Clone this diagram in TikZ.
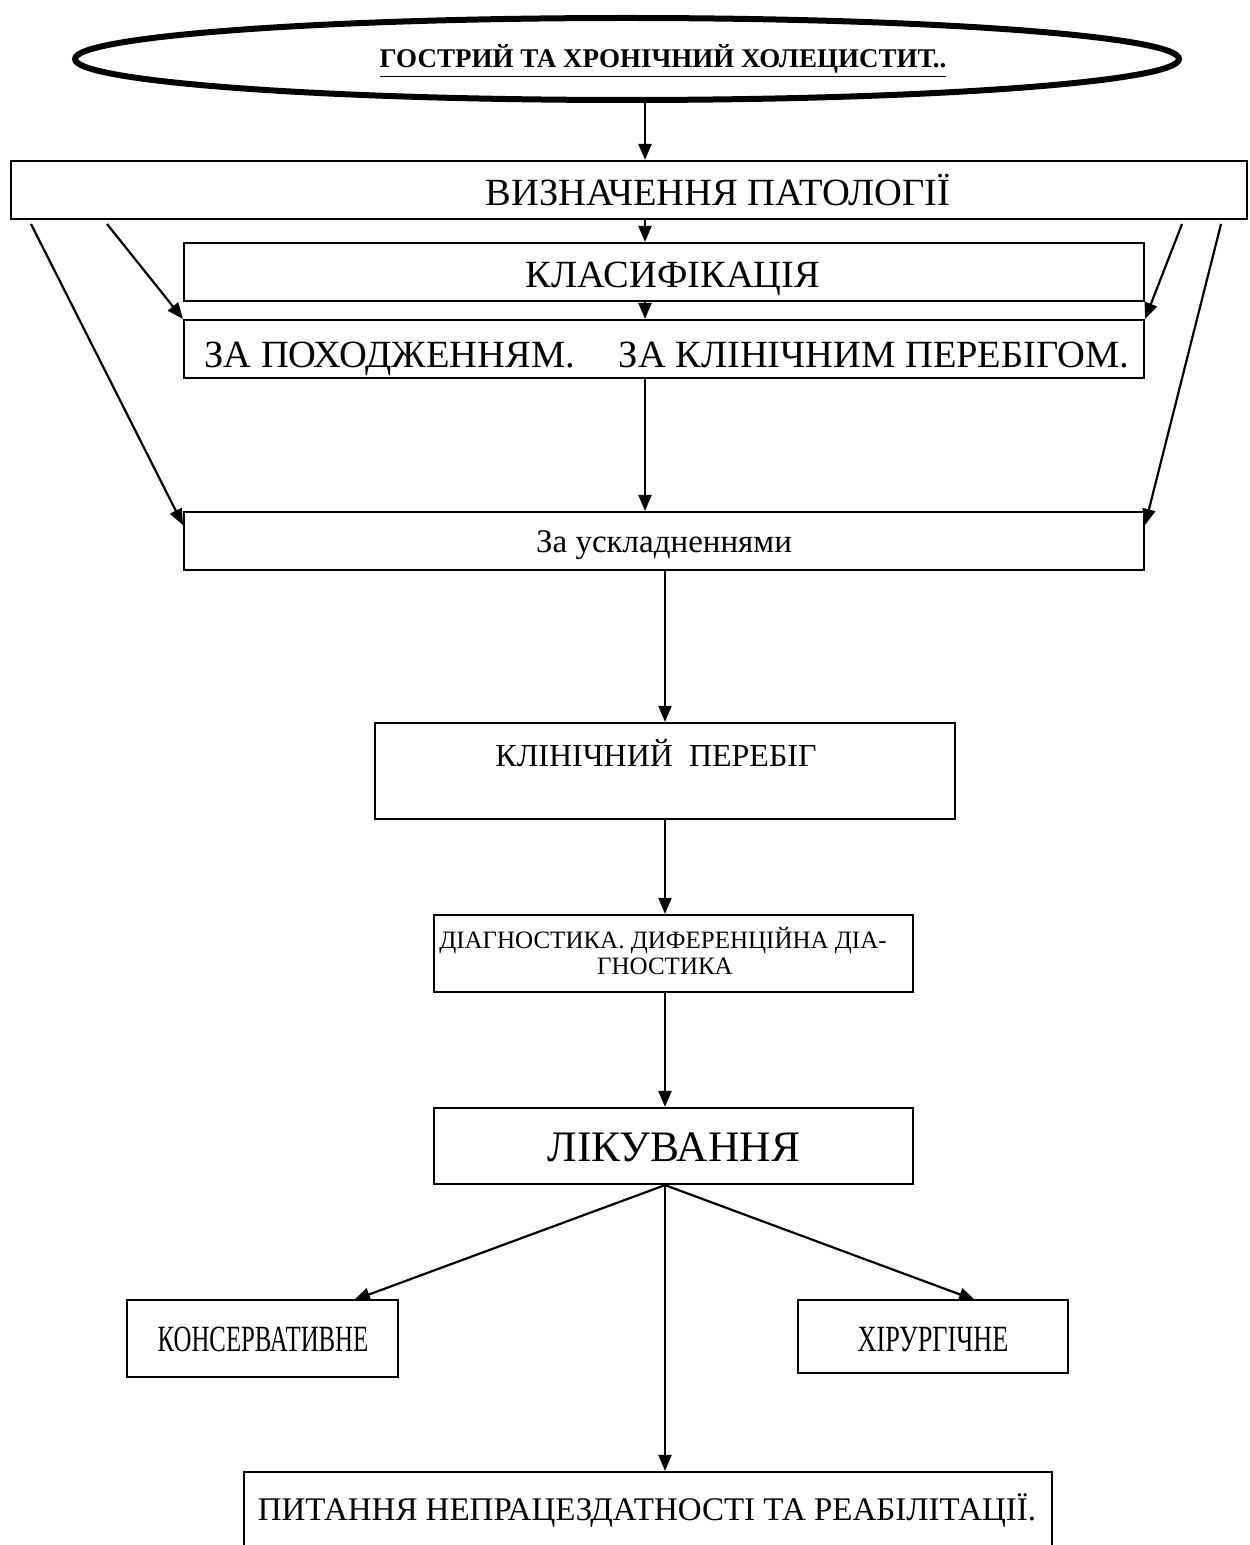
\documentclass[tikz,border=0pt]{standalone}
\usepackage{fontspec}
\setmainfont{Liberation Serif}
\usetikzlibrary{arrows.meta,shapes.geometric,fit}
\newcommand\fsz[1]{\fontsize{#1}{#1}\selectfont}
\begin{document}
\begin{tikzpicture}[x=0.5pt,y=-0.5pt,
  box/.style={draw, line width=1.1pt, inner sep=0pt, rectangle},
  arr/.style={-{Triangle[length=8pt,width=6.5pt]}, line width=1.1pt},
  lbl/.style={anchor=base, inner sep=0pt}]
\clip (0,0) rectangle (1249,1545);
\fill[white] (0,0) rectangle (1249,1545);

% title ellipse
\node[draw, ellipse, line width=3pt, minimum width=552pt, minimum height=41pt, inner sep=0pt] (ell) at (627,59) {};
\node[lbl, font=\fsz{13.5}\bfseries] (title) at (663,68) {\underline{ГОСТРИЙ ТА ХРОНІЧНИЙ ХОЛЕЦИСТИТ..}};

% columns
\coordinate (c1) at (645,0);
\coordinate (c2) at (665,0);

% boxes
\node[box, fit={(11,161) (1247,219)}] (b1) {};
\node[lbl, font=\fsz{19.25}] (t1) at (718,206) {ВИЗНАЧЕННЯ ПАТОЛОГІЇ};

\node[box, fit={(184,243) (1144,301)}] (b2) {};
\node[lbl, font=\fsz{19.25}] (t2) at (673,288) {КЛАСИФІКАЦІЯ};

\node[box, fit={(184,320) (1144,378)}] (b3) {};
\node[anchor=base west, inner sep=0pt, font=\fsz{19.25}] (t3) at (204,368) {ЗА ПОХОДЖЕННЯМ.\hspace{22pt}ЗА КЛІНІЧНИМ ПЕРЕБІГОМ.};

\node[box, fit={(184,512) (1144,570)}] (b4) {};
\node[lbl, font=\fsz{16.5}] (t4) at (664,552) {За ускладненнями};

\node[box, fit={(375,723) (955,819)}] (b5) {};
\node[lbl, font=\fsz{16}] (t5) at (656,766) {КЛІНІЧНИЙ\ \ ПЕРЕБІГ};

\node[box, fit={(434,915) (913,992)}] (b6) {};
\node[lbl, font=\fsz{12.5}] (t6a) at (663,948) {ДІАГНОСТИКА. ДИФЕРЕНЦІЙНА ДІА-};
\node[lbl, font=\fsz{12.5}] (t6b) at (665,974) {ГНОСТИКА};

\node[box, fit={(434,1108) (913,1184)}] (b7) {};
\node[lbl, font=\fsz{21.75}] (t7) at (674,1161) {ЛІКУВАННЯ};

\node[box, fit={(127,1300) (398,1377)}] (b8) {};
\node[lbl, font=\fsz{18.5}] (t8) at (263,1351) {\scalebox{0.67}[1]{КОНСЕРВАТИВНЕ}};

\node[box, fit={(798,1300) (1068,1373)}] (b9) {};
\node[lbl, font=\fsz{18.5}] (t9) at (933,1351) {\scalebox{0.71}[1]{ХІРУРГІЧНЕ}};

\node[box, fit={(244,1472) (1052,1570)}] (b10) {};
\node[lbl, font=\fsz{16.5}] (t10) at (647,1520) {ПИТАННЯ НЕПРАЦЕЗДАТНОСТІ ТА РЕАБІЛІТАЦІЇ.};

% connector coordinates
\coordinate (dl1) at (107,224);
\coordinate (dl2) at (31,224);
\coordinate (dr1) at (1182,224);
\coordinate (dr2) at (1221,224);
\coordinate (e4l) at (183,525);
\coordinate (e4r) at (1145,525);
\coordinate (e8) at (354,1300);
\coordinate (e9) at (975,1300);

% vertical chain
\draw[arr] (ell.south -| c1) -- (b1.north -| c1);
\draw[arr] (b1.south -| c1) -- (b2.north -| c1);
\draw[arr] (b2.south -| c1) -- (b3.north -| c1);
\draw[arr] (b3.south -| c1) -- (b4.north -| c1);
\draw[arr] (b4.south -| c2) -- (b5.north -| c2);
\draw[arr] (b5.south -| c2) -- (b6.north -| c2);
\draw[arr] (b6.south -| c2) -- (b7.north -| c2);
\draw[arr] (b7.south -| c2) -- (b10.north -| c2);

% diagonals
\draw[arr] (dl1) -- (b3.north west);
\draw[arr] (dr1) -- (b3.north east);
\draw[arr] (dl2) -- (e4l);
\draw[arr] (dr2) -- (e4r);
\draw[arr] (b7.south -| c2) -- (e8);
\draw[arr] (b7.south -| c2) -- (e9);
\end{tikzpicture}
\end{document}
